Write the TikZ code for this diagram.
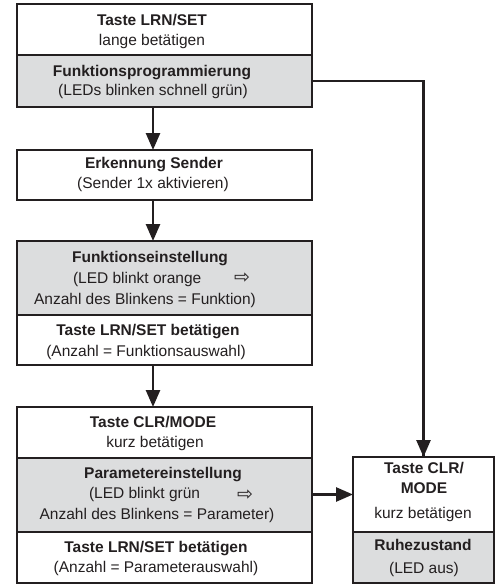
\documentclass[tikz,border=0pt]{standalone}
\usepackage{fontspec}
\setmainfont{Liberation Sans}
\newfontfamily\symfont{DejaVu Sans}
\usetikzlibrary{arrows.meta}
\definecolor{ink}{HTML}{231F20}
\definecolor{shade}{HTML}{DCDDDE}
\begin{document}
\begin{tikzpicture}[x=1pt,y=-1pt,
  box/.style={draw=ink,line width=2.2pt,fill=white,rectangle,inner sep=0pt,outer sep=0pt,anchor=north west},
  graybox/.style={box,fill=shade},
  txt/.style={anchor=base,inner sep=0pt,outer sep=0pt,font=\fontsize{15.5}{19}\selectfont,text=ink},
  btxt/.style={txt,font=\fontsize{15.5}{19}\selectfont\bfseries},
  lefttxt/.style={txt,anchor=base west},
  sym/.style={anchor=center,inner sep=0pt,text=ink,font=\fontsize{19}{20}\symfont},
  arr/.style={draw=ink,line width=2.6pt,-{Triangle[length=17pt,width=14pt]}},
  conn/.style={draw=ink,line width=2.6pt}]
\useasboundingbox (0,0) rectangle (500,586);
% boxes
\node[box,minimum width=295,minimum height=51] (b1a) at (17,4) {};
\node[graybox,minimum width=295,minimum height=52] (b1b) at (17,55) {};
\node[box,minimum width=295,minimum height=50] (b2) at (17,150) {};
\node[graybox,minimum width=295,minimum height=74] (b3a) at (17,241) {};
\node[box,minimum width=295,minimum height=50] (b3b) at (17,315) {};
\node[box,minimum width=295,minimum height=51] (b4a) at (17,407) {};
\node[graybox,minimum width=295,minimum height=74] (b4b) at (17,458) {};
\node[box,minimum width=295,minimum height=51] (b4c) at (17,532) {};
\node[box,minimum width=141,minimum height=75] (r1) at (353,457) {};
\node[graybox,minimum width=141,minimum height=51] (r2) at (353,532) {};
% texts
\node[btxt] (t1) at (152,26) {Taste LRN/SET};
\node[txt] (t2) at (152,46) {lange betätigen};
\node[btxt] (t3) at (152,76) {Funktionsprogrammierung};
\node[txt] (t4) at (153,95) {(LEDs blinken schnell grün)};
\node[btxt] (t5) at (154,168) {Erkennung Sender};
\node[txt] (t6) at (153,188) {(Sender 1x aktivieren)};
\node[btxt] (t7) at (150,262) {Funktionseinstellung};
\node[lefttxt] (t8) at (73,283) {(LED blinkt orange};
\node[sym] (s1) at (242,278.5) {⇨};
\node[txt] (t9) at (145,304) {Anzahl des Blinkens = Funktion)};
\node[btxt] (t10) at (148,335) {Taste LRN/SET betätigen};
\node[txt] (t11) at (146,356) {(Anzahl = Funktionsauswahl)};
\node[btxt] (t12) at (153,427) {Taste CLR/MODE};
\node[txt] (t13) at (155,447) {kurz betätigen};
\node[btxt] (t14) at (163,478) {Parametereinstellung};
\node[lefttxt] (t15) at (89,498) {(LED blinkt grün};
\node[sym] (s2) at (245,495) {⇨};
\node[txt] (t16) at (157,519) {Anzahl des Blinkens = Parameter)};
\node[btxt] (t17) at (156,552) {Taste LRN/SET betätigen};
\node[txt] (t18) at (156,572) {(Anzahl = Parameterauswahl)};
\node[btxt] (t19) at (424,473) {Taste CLR/};
\node[btxt] (t20) at (424,493) {MODE};
\node[txt] (t21) at (423,518) {kurz betätigen};
\node[btxt] (t22) at (423,550) {Ruhezustand};
\node[txt] (t23) at (424,573) {(LED aus)};
% connectors
\coordinate (ax) at (153,0);
\draw[arr] (b1b.south -| ax) -- (b2.north -| ax);
\draw[arr] (b2.south -| ax) -- (b3a.north -| ax);
\draw[arr] (b3b.south -| ax) -- (b4a.north -| ax);
\draw[conn] (b1b.east) -| (r1.north);
\draw[arr] (r1.north |- b1b.east) -- (r1.north);
\draw[arr] (b4b.east |- r1.west) -- (r1.west);
\end{tikzpicture}
\end{document}
